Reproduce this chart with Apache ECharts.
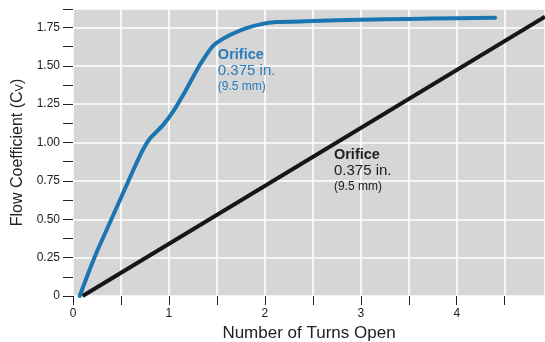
<!DOCTYPE html>
<html>
<head>
<meta charset="utf-8">
<script src="https://cdn.jsdelivr.net/npm/echarts@6/dist/echarts.min.js"></script>
<style>
html,body{margin:0;padding:0;background:#fff;}
#c{width:545px;height:342px;}
</style>
</head>
<body>
<div id="c"></div>
<script>
// Blue curve (turns, Cv)
const blueX = [0.07, 0.16, 0.25, 0.35, 0.45, 0.55, 0.65, 0.73, 0.80, 0.87, 0.94, 1.045, 1.149, 1.236, 1.323, 1.46, 1.635, 1.81, 1.95, 2.12, 2.5, 3.0, 3.5, 4.0, 4.4];
const blueY = [0, 0.15, 0.29, 0.43, 0.57, 0.71, 0.85, 0.955, 1.025, 1.07, 1.115, 1.203, 1.311, 1.409, 1.507, 1.63, 1.70, 1.746, 1.77, 1.785, 1.792, 1.80, 1.805, 1.81, 1.813];
// Black straight line
const blackX = [0.1, 4.92];
const blackY = [0, 1.82];
const xTickLabels = ['0', '1', '2', '3', '4'];
const yTickLabels = ['0', '0.25', '0.50', '0.75', '1.00', '1.25', '1.50', '1.75'];
const annoText = ['Orifice', '0.375 in.', '(9.5 mm)'];

const FONT = 'Liberation Sans, Arial, Helvetica, sans-serif';
const chart = echarts.init(document.getElementById('c'));
const option = {
  animation: false,
  textStyle: {fontFamily: FONT},
  grid: {left: 73, right: 0, top: 9, bottom: 46, show: true, backgroundColor: '#d6d6d6', borderWidth: 0,
         containLabel: false, outerBoundsMode: 'none'},
  xAxis: {
    type: 'value', min: 0, max: 4.92, interval: 0.5,
    axisLine: {show: false},
    axisTick: {show: true, length: 9, inside: false, lineStyle: {color: '#222', width: 1}},
    axisLabel: {
      color: '#222', fontSize: 12, margin: 12, fontFamily: FONT,
      formatter: v => {
        const i = xTickLabels.indexOf(String(v));
        return i >= 0 ? xTickLabels[i] : '';
      }
    },
    splitLine: {show: true, lineStyle: {color: '#ffffff', width: 1.5}},
    name: 'Number of Turns Open', nameLocation: 'middle', nameGap: 29,
    nameTextStyle: {color: '#222', fontSize: 17, fontFamily: FONT}
  },
  yAxis: {
    type: 'value', min: 0, max: 1.87, interval: 0.25,
    axisLine: {show: false},
    axisTick: {show: true, length: 10, lineStyle: {color: '#222', width: 1}},
    minorTick: {show: true, splitNumber: 2, length: 10, lineStyle: {color: '#222', width: 1}},
    axisLabel: {
      color: '#222', fontSize: 12, margin: 13, fontFamily: FONT,
      formatter: v => {
        const idx = Math.round(v / 0.25);
        if (Math.abs(v - idx * 0.25) > 1e-6) return '';
        return yTickLabels[idx] || '';
      }
    },
    splitLine: {show: true, lineStyle: {color: '#ffffff', width: 1.5}},
    name: '{a|Flow Coefficient (C}{b|V}{a|)}', nameLocation: 'middle', nameGap: 44, nameRotate: 90,
    nameTextStyle: {
      color: '#222', fontFamily: FONT,
      rich: {
        a: {fontSize: 16, color: '#222', fontFamily: FONT},
        b: {fontSize: 11, color: '#222', fontFamily: FONT, verticalAlign: 'bottom', padding: [6, 0, 0, 0]}
      }
    }
  },
  series: [
    {
      type: 'line', data: blackX.map((x, i) => [x, blackY[i]]),
      showSymbol: false, symbol: 'none', lineStyle: {color: '#161616', width: 4}, z: 3
    },
    {
      type: 'line', data: blueX.map((x, i) => [x, blueY[i]]),
      showSymbol: false, symbol: 'none', smooth: 0.2,
      lineStyle: {color: '#1b75b1', width: 4, cap: 'round', join: 'round'}, z: 4
    }
  ]
};
chart.setOption(option);

function anno(xv, yv, color) {
  const p = chart.convertToPixel({gridIndex: 0}, [xv, yv]);
  return {
    type: 'text', left: p[0], top: p[1], z: 10,
    style: {
      text: '{a|' + annoText[0] + '}\n{b|' + annoText[1] + '}\n{c|' + annoText[2] + '}',
      rich: {
        a: {fontSize: 14.5, fontWeight: 'bold', fill: color, lineHeight: 16, fontFamily: FONT},
        b: {fontSize: 15, fill: color, lineHeight: 16, fontFamily: FONT},
        c: {fontSize: 12, fill: color, lineHeight: 15, fontFamily: FONT}
      }
    }
  };
}
chart.setOption({graphic: [anno(1.51, 1.62, '#2a7bb8'), anno(2.72, 0.968, '#1e1e1e')]});
</script>
</body>
</html>
